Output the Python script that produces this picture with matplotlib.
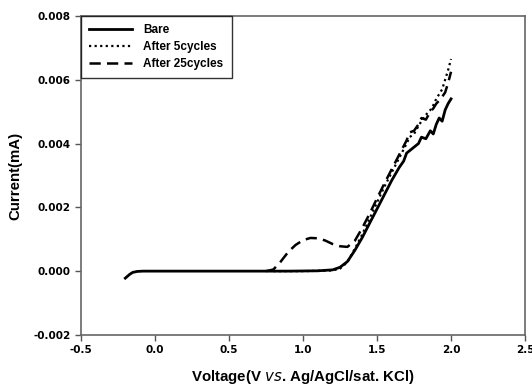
import matplotlib.pyplot as plt

# Bare electrode
v_bare = [-0.20, -0.19, -0.17, -0.15, -0.12, -0.08, 0.0, 0.3, 0.6, 0.9, 1.1, 1.2, 1.25, 1.30, 1.35,
          1.40, 1.45, 1.50, 1.55, 1.60, 1.65, 1.68, 1.70, 1.74, 1.78, 1.80, 1.83, 1.86, 1.88,
          1.90, 1.92, 1.94, 1.96, 1.98, 2.00]
i_bare = [-0.00022, -0.00018, -0.00010, -0.00004, -0.00001, 0.0, 0.0, 0.0, 0.0, 0.0, 0.00001, 0.00004, 0.00012,
          0.00030, 0.00065, 0.00105, 0.00150, 0.00195, 0.00240, 0.00285, 0.00325, 0.00345, 0.00370, 0.00385,
          0.00400, 0.00420, 0.00415, 0.00440, 0.00430, 0.00460, 0.00480, 0.00470, 0.00505, 0.00525, 0.00540]

# After 5 cycles
v_5 = [0.80, 1.0, 1.2, 1.25, 1.30, 1.35, 1.40, 1.45, 1.50, 1.55, 1.60, 1.65, 1.70, 1.72, 1.75, 1.78,
       1.80, 1.83, 1.86, 1.88, 1.90, 1.92, 1.94, 1.96, 1.98, 2.00]
i_5 = [0.0, 0.0, 0.00002, 0.00008, 0.00028, 0.00070, 0.00115, 0.00165, 0.00215, 0.00265, 0.00310, 0.00355,
       0.00400, 0.00420, 0.00430, 0.00455, 0.00470, 0.00490, 0.00505, 0.00520, 0.00540, 0.00555, 0.00570,
       0.00600, 0.00630, 0.00665]

# After 25 cycles
v_25 = [0.75, 0.80, 0.85, 0.90, 0.95, 1.00, 1.05, 1.10, 1.15, 1.20, 1.25, 1.30, 1.35, 1.40, 1.45,
        1.50, 1.55, 1.60, 1.65, 1.70, 1.72, 1.75, 1.78, 1.80, 1.83, 1.86, 1.88, 1.90, 1.93, 1.96, 1.98, 2.00]
i_25 = [0.0, 0.00005, 0.00030, 0.00060, 0.00082, 0.00097, 0.00104, 0.00103, 0.00096, 0.00085, 0.00078, 0.00076,
        0.00095, 0.00135, 0.00180, 0.00228, 0.00275, 0.00320, 0.00365, 0.00410, 0.00435, 0.00440, 0.00460,
        0.00480, 0.00475, 0.00500, 0.00510, 0.00525, 0.00540, 0.00560, 0.00590, 0.00625]

fig = plt.figure(figsize=(5.32, 3.89), dpi=100)
ax = fig.add_axes([0.152, 0.139, 0.835, 0.82])

ax.plot(v_bare, i_bare, color='black', lw=2.0, ls='-', label='Bare')
ax.plot(v_5, i_5, color='black', lw=1.6, ls=(0, (1, 1.5)), label='After 5cycles')
ax.plot(v_25, i_25, color='black', lw=1.8, ls=(0, (4.5, 2.5)), label='After 25cycles')

ax.set_xlim(-0.5, 2.5)
ax.set_ylim(-0.002, 0.008)
ax.set_xticks([-0.5, 0.0, 0.5, 1.0, 1.5, 2.0, 2.5])
ax.set_xticklabels(['-0.5', '0.0', '0.5', '1.0', '1.5', '2.0', '2.5'])
ax.set_yticks([-0.002, 0.0, 0.002, 0.004, 0.006, 0.008])
ax.set_yticklabels(['-0.002', '0.000', '0.002', '0.004', '0.006', '0.008'])
ax.tick_params(direction='out', length=4, width=1, colors='#555555', labelcolor='black')
for lab in ax.get_xticklabels() + ax.get_yticklabels():
    lab.set_fontsize(7.5)
    lab.set_fontweight('bold')
for sp in ax.spines.values():
    sp.set_color('#666666')
    sp.set_linewidth(1.2)

ax.set_xlabel(r'Voltage(V $\it{vs}$. Ag/AgCl/sat. KCl)', fontsize=10.8, fontweight='bold',
              family='Liberation Sans', labelpad=9)
ax.set_ylabel('Current(mA)', fontsize=10.8, fontweight='bold', family='Liberation Sans', labelpad=8)

leg = ax.legend(loc='upper left', borderaxespad=0, frameon=True, fancybox=False,
                prop={'weight': 'bold', 'size': 8.5, 'family': 'Liberation Sans'},
                handlelength=3.6, handletextpad=1.0, labelspacing=0.4, borderpad=0.7)
leg.get_frame().set_edgecolor('black')
leg.get_frame().set_linewidth(1.0)

plt.savefig('out.png', dpi=100)
